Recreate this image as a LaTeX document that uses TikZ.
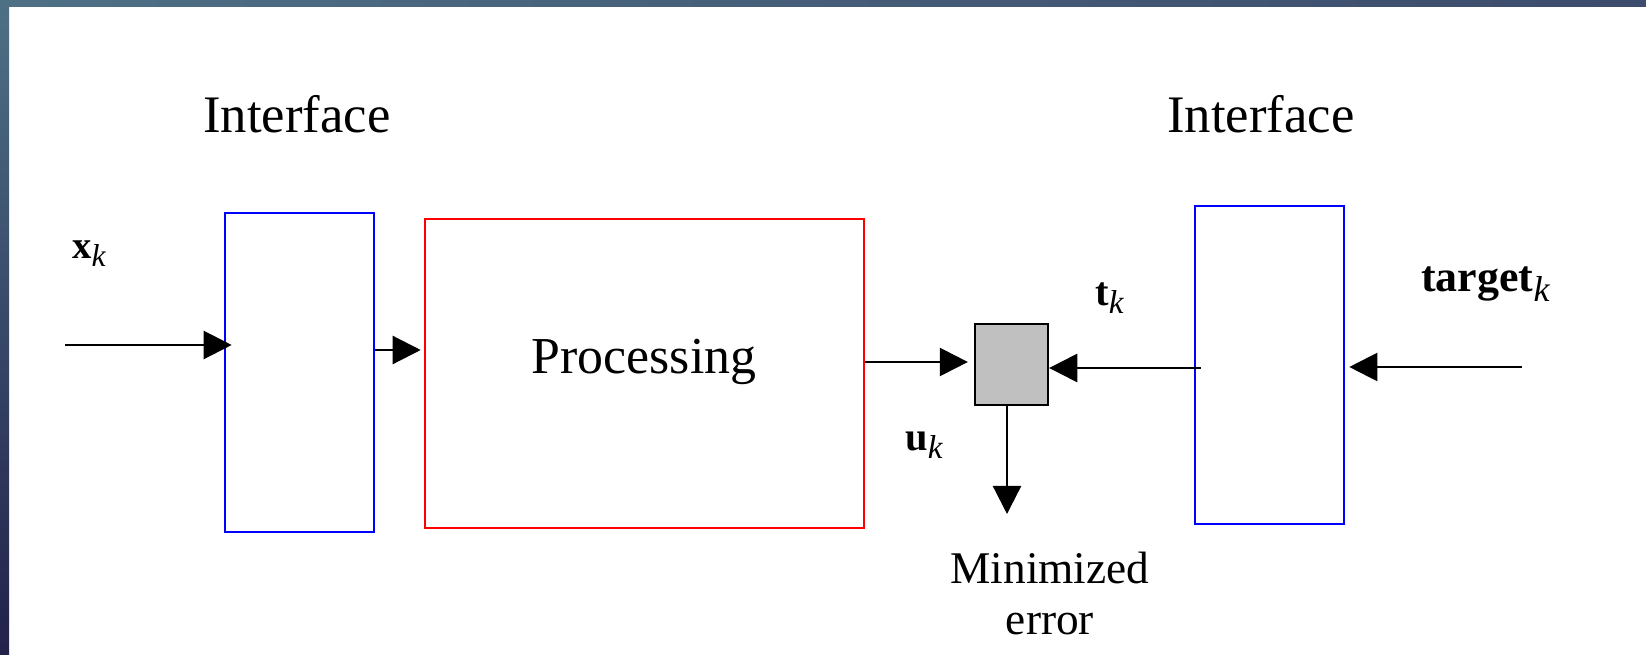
\documentclass[tikz,border=0pt]{standalone}
\usepackage{graphicx}
\usepackage{xcolor}
\usepackage{fontspec}
\setmainfont{Liberation Serif}
\usetikzlibrary{arrows.meta}

\definecolor{frameteal}{HTML}{4E7085}
\definecolor{frameblue}{HTML}{3D4B6C}
\definecolor{framenavy}{HTML}{22214A}
\definecolor{boxgrey}{HTML}{C0C0C0}

% bold symbol with italic index k
\newcommand{\sigk}[1]{{\bfseries #1}\raisebox{-0.22em}{\scalebox{0.82}{\itshape k}}}

\begin{document}
\begin{tikzpicture}[x=0.02cm,y=-0.02cm,
    iface/.style={draw=blue,line width=1.5pt,minimum width=2.98cm,inner sep=0pt},
    conn/.style={line width=1.3pt,-{Triangle[length=16pt,width=16pt]}},
    sig/.style={anchor=base west,inner sep=0pt}]
    \useasboundingbox (0,0) rectangle (1646,655);
    \fill[white] (0,0) rectangle (1646,655);
    % slide frame
    \shade[left color=frameteal,right color=frameblue] (0,0) rectangle (1646,7);
    \shade[top color=frameteal,bottom color=framenavy] (0,0) rectangle (9,655);

    \node[iface,minimum height=6.38cm] (lint) at (299.5,372.5) {};
    \node[draw=red,line width=1.5pt,minimum width=8.78cm,minimum height=6.18cm,inner sep=0pt] (proc) at (644.5,373.5) {};
    \node[anchor=base,inner sep=0pt,font=\fontsize{29.5pt}{34pt}\selectfont] (proclbl) at (644,373) {Processing};
    \node[draw,fill=boxgrey,line width=1.3pt,minimum width=1.46cm,minimum height=1.62cm,inner sep=0pt] (cmp) at (1011.5,364.5) {};
    \node[iface,minimum height=6.36cm] (rint) at (1269.5,365) {};

    \node[anchor=base,inner sep=0pt,font=\fontsize{30pt}{34pt}\selectfont] (llbl) at (297,133) {Interface};
    \node[anchor=base,inner sep=0pt,font=\fontsize{30pt}{34pt}\selectfont] (rlbl) at (1261,133) {Interface};

    \node[sig,font=\fontsize{22pt}{25pt}\selectfont] (xk) at (72,258) {\sigk{x}};
    \node[sig,font=\fontsize{23pt}{26pt}\selectfont] (tk) at (1095,305) {\sigk{t}};
    \node[sig,font=\fontsize{23pt}{26pt}\selectfont] (uk) at (905,450) {\sigk{u}};
    \node[sig,font=\fontsize{25pt}{28pt}\selectfont] (trg) at (1421,292) {\sigk{target}};

    \node[anchor=north,inner sep=0pt,align=center,font=\fontsize{25.8pt}{29pt}\selectfont] (err) at (1050,552) {Minimized\\error};

    \coordinate (xin) at (65,345);
    \coordinate (tin) at (1522,367);
    \coordinate (errtip) at (1007,514);

    \draw[conn,shorten >=-0.16cm] (xin) -- (xin -| lint.west);
    \draw[conn,shorten >=0.06cm] (lint.east |- 0,350) -- (proc.west |- 0,350);
    \draw[conn,shorten >=0.12cm] (proc.east |- 0,362) -- (cmp.west |- 0,362);
    \draw[conn,shorten <=-0.14cm] (rint.west |- 0,368) -- (cmp.east |- 0,368);
    \draw[conn] (cmp.south -| errtip) -- (errtip);
    \draw[conn,shorten >=0.08cm] (tin) -- (tin -| rint.east);
\end{tikzpicture}
\end{document}
